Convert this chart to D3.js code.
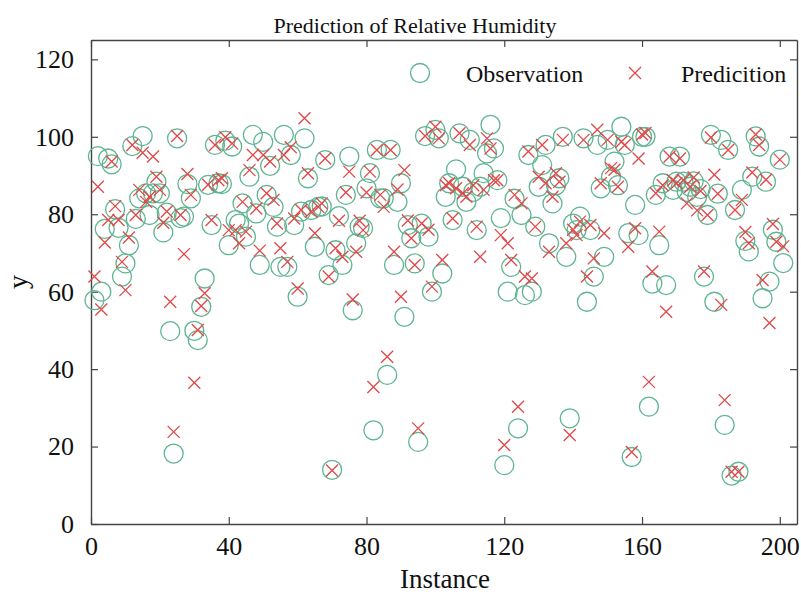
<!DOCTYPE html>
<html>
<head>
<meta charset="utf-8">
<script src="https://cdn.jsdelivr.net/npm/d3@7"></script>
<style>
  body { margin: 0; background: #fff; }
  svg text { font-family: "Liberation Serif", "Times New Roman", serif; fill: #111; }
</style>
</head>
<body>
<script>
// observed relative humidity, instances 1..201
var observation = [
  57.8,95.0,60.0,76.2,94.4,92.9,81.3,76.5,63.9,67.3,
  72.0,97.6,78.8,84.1,100.2,85.4,79.8,85.4,88.4,85.4,
  75.3,80.4,49.8,18.2,99.6,79.0,79.4,87.8,84.1,49.9,
  47.5,56.1,63.4,87.6,77.2,97.9,88.0,87.8,99.0,72.0,
  97.5,78.5,77.6,82.8,74.2,89.7,100.5,80.2,66.9,98.7,
  85.0,92.5,81.9,76.8,66.4,100.5,66.4,95.3,77.2,58.7,
  80.7,99.6,89.3,81.1,71.6,81.9,82.0,94.0,64.3,14.0,
  70.7,79.5,66.9,85.0,94.9,55.2,72.5,76.8,76.4,86.7,
  90.6,24.2,96.6,84.1,84.1,38.5,96.6,66.9,83.2,88.0,
  53.5,77.2,73.8,67.3,21.2,77.6,100.2,74.2,60.0,101.8,
  99.6,64.7,84.5,
  88.0,78.5,91.6,100.9,87.1,83.2,99.2,85.8,75.9,87.1,
  90.6,95.7,103.1,97.0,88.8,79.0,15.2,60.0,66.4,84.0,
  24.7,79.8,59.1,95.3,60.0,76.8,87.1,92.7,97.9,72.5,
  82.8,87.5,89.3,100.0,69.0,27.3,
  77.6,75.9,79.4,99.6,57.4,75.9,63.9,97.9,86.7,69.0,
  99.2,89.7,93.6,87.5,102.6,97.9,75.1,17.3,82.4,74.6,
  100.0,100.0,30.3,62.1,85.0,72.0,88.0,61.7,94.9,86.3,
  88.4,
  94.9,88.4,85.8,87.1,88.5,84.5,86.5,63.9,79.8,100.5,
  57.4,85.3,99.2,25.6,96.6,12.5,81.1,13.5,86.3,73.1,
  70.4,89.7,100.1,97.5,58.3,88.4,62.6,76.0,72.9,94.1,
  67.4
];
// predicted values for the same instances
var prediction = [
  63.9,87.1,55.4,72.7,78.5,93.6,82.1,78.5,67.7,60.4,
  74.0,97.9,79.8,86.3,95.9,83.2,84.5,94.9,89.7,86.3,
  77.8,80.7,57.4,23.8,100.2,79.8,69.7,90.4,85.0,36.5,
  50.1,56.3,59.6,87.6,78.5,97.9,88.8,89.3,99.9,75.9,
  98.3,75.9,72.5,83.2,75.5,91.4,95.3,81.5,70.6,95.3,
  85.4,93.6,83.7,77.6,71.2,95.3,67.7,97.3,78.9,60.8,
  81.1,104.8,90.6,80.7,75.1,81.9,82.8,94.4,63.9,13.8,
  71.2,78.3,69.0,85.6,91.0,58.0,70.3,78.3,75.9,85.6,
  91.0,35.4,96.6,85.0,81.9,43.2,96.6,70.3,86.4,58.7,
  91.4,78.4,73.8,66.9,24.7,77.6,100.2,76.0,61.3,102.6,
  99.6,68.2,87.5,
  88.0,78.9,86.7,100.9,85.4,84.5,97.9,87.5,76.8,69.0,
  86.3,99.6,97.0,88.8,88.8,74.6,20.4,72.5,68.2,85.0,
  30.3,82.8,63.9,96.2,63.4,76.8,89.7,97.9,88.0,70.3,
  84.5,90.6,88.4,99.2,72.5,23.0,
  76.0,74.6,78.1,99.2,63.9,77.2,68.6,101.8,88.0,75.1,
  99.2,91.9,91.5,87.1,98.7,97.9,71.6,18.6,76.4,94.4,
  100.6,101.0,36.7,65.2,85.4,75.5,87.5,54.8,94.9,88.8,
  88.0,
  94.4,88.8,82.8,87.1,89.5,81.0,86.0,65.2,79.8,99.8,
  90.2,85.3,56.6,32.0,96.6,13.5,81.1,13.5,83.7,75.4,
  72.5,90.8,100.6,97.9,63.0,88.9,51.9,77.5,72.9,94.1,
  71.7
];
var instances = observation.map(function(d, i){ return i + 1; });
var xTicks = [0, 40, 80, 120, 160, 200];
var yTicks = [0, 20, 40, 60, 80, 100, 120];
var seriesNames = ["Observation", "Predicition"];

var width = 801, height = 596;
var margin = {top: 40, right: 4, bottom: 72, left: 91};
var green = "#5fb592", red = "#e04848";

var svg = d3.select("body").append("svg")
    .attr("width", width)
    .attr("height", height);

var x = d3.scaleLinear().domain([0, 205]).range([margin.left, width - margin.right]);
var y = d3.scaleLinear().domain([0, 125]).range([height - margin.bottom, margin.top]);

var tickLen = 7;
// axes with inward ticks (box style)
svg.append("g")
    .attr("transform", "translate(0," + y(0) + ")")
    .call(d3.axisBottom(x).tickValues(xTicks).tickSizeInner(-tickLen).tickSizeOuter(0).tickPadding(13))
    .call(styleAxis);
svg.append("g")
    .attr("transform", "translate(0," + y(125) + ")")
    .call(d3.axisTop(x).tickValues(xTicks).tickSizeInner(-tickLen).tickSizeOuter(0).tickFormat(""))
    .call(styleAxis);
svg.append("g")
    .attr("transform", "translate(" + x(0) + ",0)")
    .call(d3.axisLeft(y).tickValues(yTicks).tickSizeInner(-tickLen).tickSizeOuter(0).tickPadding(17))
    .call(styleAxis);
svg.append("g")
    .attr("transform", "translate(" + x(205) + ",0)")
    .call(d3.axisRight(y).tickValues(yTicks).tickSizeInner(-tickLen).tickSizeOuter(0).tickFormat(""))
    .call(styleAxis);

function styleAxis(g){
    g.select(".domain").attr("stroke", "#444").attr("stroke-width", 1.4);
    g.selectAll(".tick line").attr("stroke", "#444").attr("stroke-width", 1.2);
    g.selectAll(".tick text")
        .style("font-family", '"Liberation Serif", "Times New Roman", serif')
        .style("font-size", "26px")
        .attr("fill", "#222");
}

var plot = svg.append("g");

plot.selectAll("circle.obs")
    .data(instances)
    .enter().append("circle")
    .attr("class", "obs")
    .attr("cx", function(d){ return x(d); })
    .attr("cy", function(d, i){ return y(observation[i]); })
    .attr("r", 9.5)
    .attr("fill", "none")
    .attr("stroke", green)
    .attr("stroke-width", 1.3);

function crossPath(cx, cy, s){
    return "M" + (cx - s) + "," + (cy - s) + "L" + (cx + s) + "," + (cy + s) +
           "M" + (cx - s) + "," + (cy + s) + "L" + (cx + s) + "," + (cy - s);
}

plot.selectAll("path.pred")
    .data(instances)
    .enter().append("path")
    .attr("class", "pred")
    .attr("d", function(d, i){ return crossPath(x(d), y(prediction[i]), 6); })
    .attr("fill", "none")
    .attr("stroke", red)
    .attr("stroke-width", 1.3);

// title and axis labels
svg.append("text")
    .attr("x", 415).attr("y", 33)
    .attr("text-anchor", "middle")
    .style("font-size", "22px")
    .text("Prediction of Relative Humidity");
svg.append("text")
    .attr("x", 445).attr("y", 588)
    .attr("text-anchor", "middle")
    .style("font-size", "27px")
    .text("Instance");
svg.append("text")
    .attr("transform", "translate(27,282) rotate(-90)")
    .attr("text-anchor", "middle")
    .style("font-size", "28px")
    .text("y");

// legend
var legend = svg.append("g");
legend.append("circle")
    .attr("cx", 420).attr("cy", 73).attr("r", 9.5)
    .attr("fill", "none").attr("stroke", green).attr("stroke-width", 1.3);
legend.append("text")
    .attr("x", 466).attr("y", 82)
    .style("font-size", "24px")
    .text(seriesNames[0]);
legend.append("path")
    .attr("d", crossPath(635, 73, 6))
    .attr("fill", "none").attr("stroke", red).attr("stroke-width", 1.3);
legend.append("text")
    .attr("x", 681).attr("y", 82)
    .style("font-size", "24px")
    .text(seriesNames[1]);
</script>
</body>
</html>
